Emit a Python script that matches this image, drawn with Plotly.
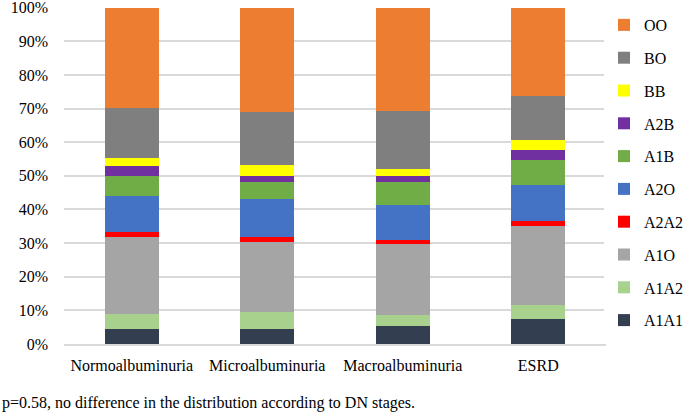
import plotly.graph_objects as go

categories = ["Normoalbuminuria", "Microalbuminuria", "Macroalbuminuria", "ESRD"]
series_names = ["A1A1", "A1A2", "A1O", "A2A2", "A2O", "A1B", "A2B", "BB", "BO", "OO"]
A1A1 = [4.4, 4.6, 5.5, 7.4]
A1A2 = [4.5, 4.9, 3.1, 4.2]
A1O = [23.0, 20.9, 21.0, 23.5]
A2A2 = [1.3, 1.3, 1.3, 1.4]
A2O = [10.9, 11.4, 10.5, 10.8]
A1B = [6.0, 5.0, 6.9, 7.3]
A2B = [2.7, 2.0, 1.6, 3.1]
BB = [2.4, 3.0, 2.0, 3.0]
BO = [15.0, 15.8, 17.3, 13.0]
OO = [29.8, 31.1, 30.8, 26.3]
series_values = [A1A1, A1A2, A1O, A2A2, A2O, A1B, A2B, BB, BO, OO]
colors = ["#333F50", "#A9D18E", "#A5A5A5", "#FF0000", "#4472C4",
          "#70AD47", "#7030A0", "#FFFF00", "#7F7F7F", "#ED7D31"]
tick_vals = [0, 10, 20, 30, 40, 50, 60, 70, 80, 90, 100]
tick_text = [f"{v}%" for v in tick_vals]
caption = "p=0.58, no difference in the distribution according to DN stages."

font = "Liberation Serif"
PW, PH = 542, 337

fig = go.Figure()
n = len(series_names)
for i, (name, vals, col) in enumerate(zip(series_names, series_values, colors)):
    fig.add_trace(go.Bar(x=categories, y=vals, name=name, marker_color=col,
                         marker_line_width=0, legendgroup=name,
                         legendrank=n - i))

fig.update_layout(
    barmode="stack", bargap=0.6,
    width=685, height=416,
    margin=dict(l=64, r=79, t=7, b=72, autoexpand=False),
    plot_bgcolor="white", paper_bgcolor="white",
    font=dict(family=font, size=16, color="black"),
    legend=dict(traceorder="grouped", xref="container", yref="container",
                x=604/685, y=1 - 8/416, yanchor="top", xanchor="left",
                tracegroupgap=9, font=dict(family=font, size=16),
                itemwidth=30, maxheight=410),
    showlegend=True,
)
fig.update_yaxes(range=[0, 100.2], tickvals=tick_vals, ticktext=tick_text,
                 showgrid=True, gridcolor="#D9D9D9", gridwidth=1.5,
                 zeroline=False, showline=False, ticks="", ticklabelstandoff=15,
                 ticklabeloverflow="allow", automargin=False)
fig.update_xaxes(showline=True, linecolor="#D9D9D9", linewidth=1.5, ticks="",
                 ticklabelstandoff=6, tickfont=dict(family=font, size=16),
                 automargin=False)
fig.add_annotation(text=caption, xref="paper", yref="paper",
                   x=-64/PW, y=-59/PH, xanchor="left", yanchor="middle",
                   showarrow=False, font=dict(family=font, size=16))
fig.write_html("out.html", post_script="document.body.style.margin='0';",
               config={"displayModeBar": False})
